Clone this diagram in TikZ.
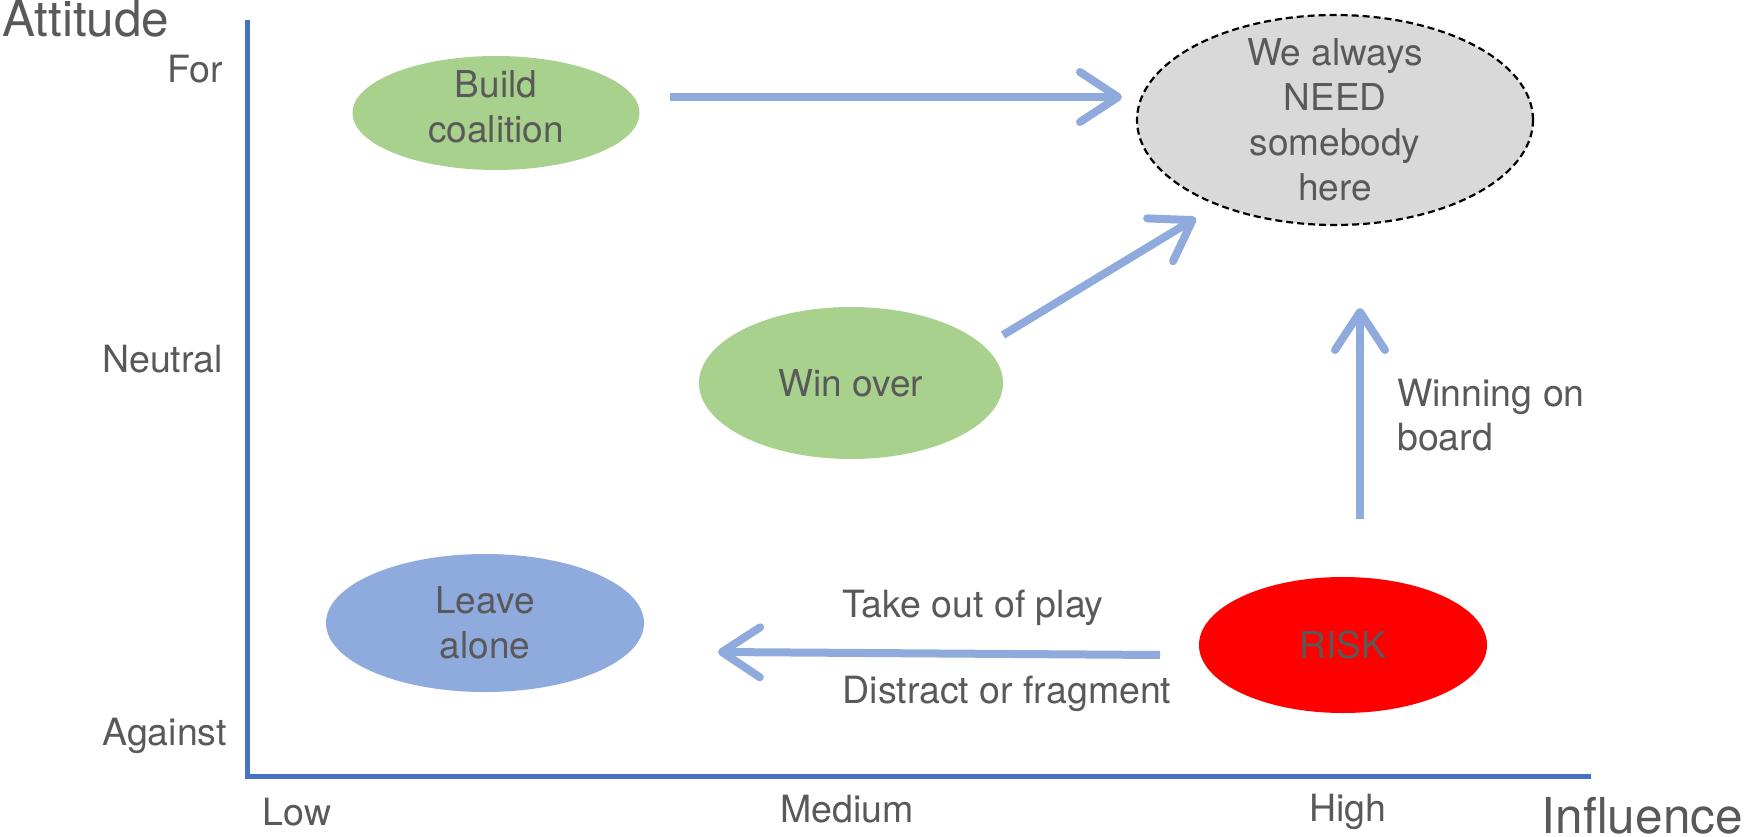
\documentclass[tikz,border=0pt]{standalone}
\usepackage{fontspec}
\setmainfont{TeX Gyre Heros}
\usetikzlibrary{shapes.geometric,arrows.meta}
\definecolor{txt}{HTML}{595959}
\definecolor{axisblue}{HTML}{4472C4}
\definecolor{arrblue}{HTML}{8FAADC}
\definecolor{leafgreen}{HTML}{A9D18E}
\definecolor{needgray}{HTML}{D9D9D9}
\definecolor{riskred}{HTML}{FF0000}
\tikzset{
  lbl/.style={text=txt, font=\fontsize{37.5}{44}\selectfont, inner sep=0pt},
  big/.style={text=txt, font=\fontsize{49.5}{56}\selectfont, inner sep=0pt},
  blob/.style={ellipse, inner sep=0pt, draw=none},
  intext/.style={text=txt, font=\fontsize{37}{45}\selectfont, align=center, inner sep=0pt},
  bigarrow/.style={draw=arrblue, line width=8pt, -{Straight Barb[length=38pt,width=50pt,round]}},
}
\begin{document}
\begin{tikzpicture}[x=1pt,y=-1pt]
\useasboundingbox (0,0) rectangle (1745,837);
% axes
\draw[axisblue, line width=5pt, line join=miter] (247,20) -- (247,776) -- (1591,776);
% axis labels
\node[big, anchor=base west] (attitude) at (2,37) {Attitude};
\node[big, anchor=base east] (influence) at (1743,833) {Influence};
\node[lbl, anchor=base] (for) at (195,83) {For};
\node[lbl, anchor=base east] (neutral) at (223,372) {Neutral};
\node[lbl, anchor=base east] (against) at (227,745) {Against};
\node[lbl, anchor=base] (low) at (297,825) {Low};
\node[lbl, anchor=base] (medium) at (847,822) {Medium};
\node[lbl, anchor=base] (high) at (1348,821) {High};
% ellipses
\node[blob, fill=leafgreen, minimum width=287pt, minimum height=114pt,
  label={[intext, yshift=6pt]center:Build\\coalition}] (build) at (496,113) {};
\node[blob, fill=needgray, draw=black, dash pattern=on 7pt off 4pt, line width=2.2pt, minimum width=396pt, minimum height=210pt,
  label={[intext]center:We always\\NEED\\somebody\\here}] (need) at (1335,120) {};
\node[blob, fill=leafgreen, minimum width=304pt, minimum height=152pt,
  label={[intext]center:Win over}] (win) at (851,383) {};
\node[blob, fill=arrblue, minimum width=318pt, minimum height=138pt,
  label={[intext]center:Leave\\alone}] (leave) at (485,623) {};
\node[blob, fill=riskred, minimum width=288pt, minimum height=136pt,
  label={[intext]center:RISK}] (risk) at (1343,645) {};
% arrow end points
\coordinate (a1s) at (670,97);
\coordinate (a1e) at (1122,97);
\coordinate (a2s) at (1003,335);
\coordinate (a2e) at (1196,218);
\coordinate (a3s) at (1360,519);
\coordinate (a3e) at (1360,308);
\coordinate (a4s) at (1160,655);
\coordinate (a4e) at (718,652);
\draw[bigarrow] (a1s) -- (a1e);
\draw[bigarrow] (a2s) -- (a2e);
\draw[bigarrow] (a3s) -- (a3e);
\draw[bigarrow] (a4s) -- (a4e);
% arrow labels
\node[lbl, anchor=base] (take) at (973,617) {Take out of play};
\node[lbl, anchor=base] (distract) at (1007,703) {Distract or fragment};
\node[lbl, anchor=west, align=left] (winning) at (1397,415) {Winning on\\board};
\end{tikzpicture}
\end{document}
